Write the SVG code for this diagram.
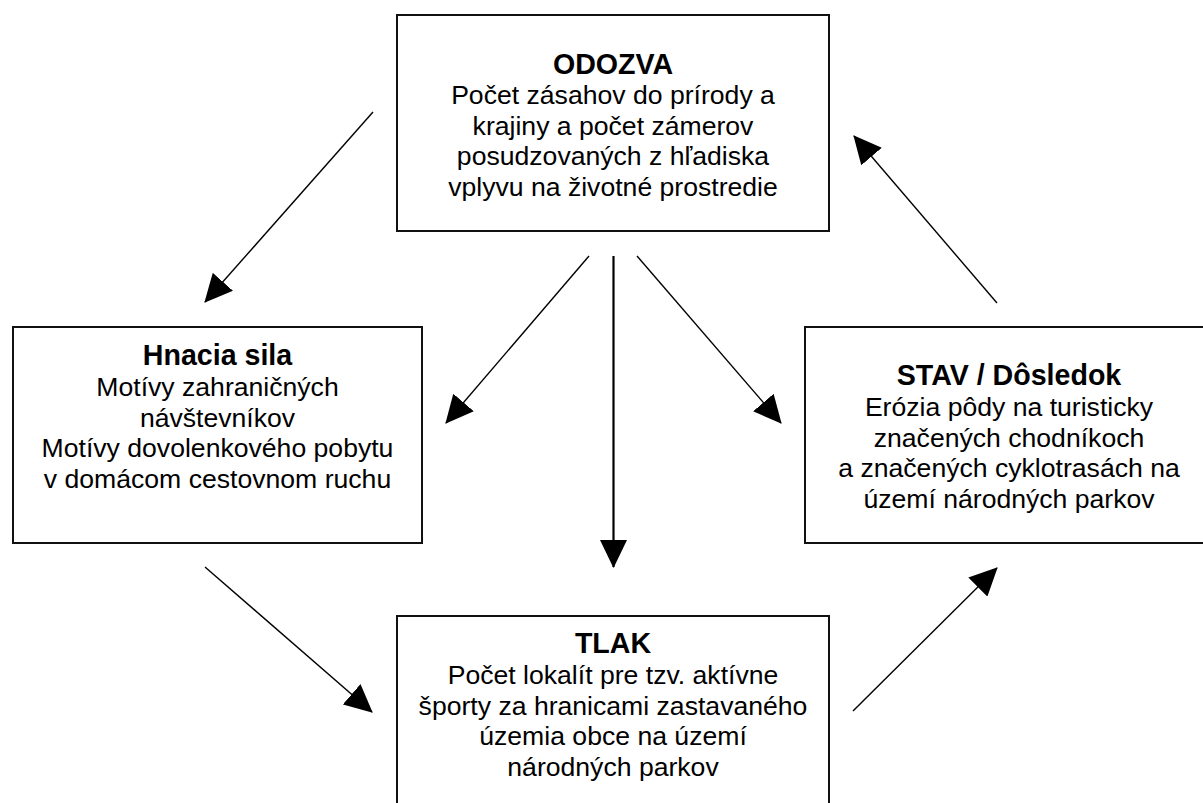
<svg xmlns="http://www.w3.org/2000/svg" width="1203" height="803" viewBox="0 0 1203 803">
<style>
.box{fill:#fff;stroke:#111;stroke-width:2}
.t{font-family:"Liberation Sans",Arial,Helvetica,sans-serif;fill:#000;text-anchor:middle}
.h{font-size:28.6px;font-weight:bold}
.b{font-size:26.6px}
.c{stroke:#000;stroke-width:1.4;fill:none;marker-end:url(#ah)}
</style>
<defs>
<marker id="ah" markerUnits="userSpaceOnUse" viewBox="0 0 28 27" markerWidth="28" markerHeight="27" refX="27" refY="13.5" orient="auto">
<path d="M0,0 L28,13.5 L0,27 z" fill="#000"/>
</marker>
</defs>
<rect width="1203" height="803" fill="#fff"/>
<g id="odozva">
<rect class="box" x="397" y="15" width="432" height="216"/>
<text class="t h" x="613" y="73.5">ODOZVA</text>
<text class="t b" x="613" y="104">Počet zásahov do prírody a</text>
<text class="t b" x="613" y="134.5">krajiny a počet zámerov</text>
<text class="t b" x="613" y="165">posudzovaných z hľadiska</text>
<text class="t b" x="613" y="195.5">vplyvu na životné prostredie</text>
</g>
<g id="hnacia-sila">
<rect class="box" x="13" y="327" width="409" height="216"/>
<text class="t h" x="217.5" y="365">Hnacia sila</text>
<text class="t b" x="217.5" y="396">Motívy zahraničných</text>
<text class="t b" x="217.5" y="426.5">návštevníkov</text>
<text class="t b" x="217.5" y="457">Motívy dovolenkového pobytu</text>
<text class="t b" x="217.5" y="487.5">v domácom cestovnom ruchu</text>
</g>
<g id="stav">
<rect class="box" x="805" y="327" width="409" height="216"/>
<text class="t h" x="1009" y="384.5">STAV / Dôsledok</text>
<text class="t b" x="1009" y="416">Erózia pôdy na turisticky</text>
<text class="t b" x="1009" y="446.5">značených chodníkoch</text>
<text class="t b" x="1009" y="477">a značených cyklotrasách na</text>
<text class="t b" x="1009" y="507.5">území národných parkov</text>
</g>
<g id="tlak">
<rect class="box" x="397" y="616" width="432" height="216"/>
<text class="t h" x="613" y="653">TLAK</text>
<text class="t b" x="613" y="684">Počet lokalít pre tzv. aktívne</text>
<text class="t b" x="613" y="714.5">športy za hranicami zastavaného</text>
<text class="t b" x="613" y="745">územia obce na území</text>
<text class="t b" x="613" y="775.5">národných parkov</text>
</g>
<g id="connectors">
<line class="c" x1="373" y1="112" x2="205" y2="302"/>
<line class="c" x1="589" y1="256" x2="446" y2="423"/>
<line class="c" x1="613.5" y1="256" x2="613.5" y2="567" style="stroke-width:2.2"/>
<line class="c" x1="637" y1="256" x2="781" y2="423"/>
<line class="c" x1="997" y1="303" x2="854" y2="136"/>
<line class="c" x1="205" y1="567" x2="372" y2="712"/>
<line class="c" x1="853" y1="711" x2="997" y2="568"/>
</g>
</svg>
